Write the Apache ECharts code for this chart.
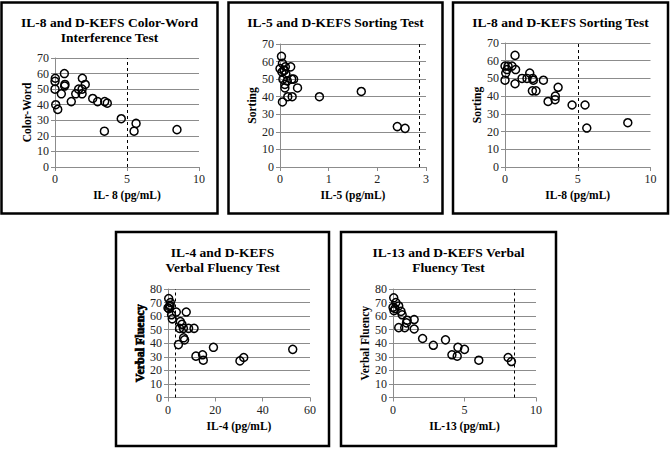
<!DOCTYPE html>
<html><head><meta charset="utf-8">
<script src="https://cdn.jsdelivr.net/npm/echarts@6/dist/echarts.min.js"></script>
<style>html,body{margin:0;padding:0;background:#fff}#c{width:670px;height:450px}</style>
</head><body><div id="c"></div>
<script>
// ---- Data ----
const titles = ['IL-8 and D-KEFS Color-Word\nInterference Test', 'IL-5 and D-KEFS Sorting Test', 'IL-8 and D-KEFS Sorting Test', 'IL-4 and D-KEFS\nVerbal Fluency Test', 'IL-13 and D-KEFS Verbal\nFluency Test'];
const xNames = ['IL- 8 (pg/mL)', 'IL-5 (pg/mL)', 'IL-8 (pg/mL)', 'IL-4 (pg/mL)', 'IL-13 (pg/mL)'];
const yNames = ['Color-Word', 'Sorting', 'Sorting', 'Verbal Fluency', 'Verbal Fluency'];
const xMaxes = [10, 3, 10, 60, 10];
const xIntervals = [5, 1, 5, 20, 5];
const yMaxes = [70, 70, 70, 80, 80];
const yIntervals = [10, 10, 10, 10, 10];
const cutoffs = [5.03, 2.86, 5.02, 3.2, 8.47];

const il8_colorword_x = [0.02, 0.0, 0.0, 0.65, 0.69, 0.67, 0.44, 0.05, 0.19, 1.13, 1.44, 1.64, 1.88, 1.9, 1.88, 2.1, 2.62, 2.96, 3.45, 3.63, 3.43, 4.6, 5.63, 5.49, 8.47];
const il8_colorword_y = [57, 55, 50, 60, 53, 52, 47, 40, 37, 42, 47, 50, 50, 57, 47, 53, 44, 42, 42, 41, 23, 31, 28, 23, 24];

const il5_sorting_x = [0.03, 0.05, 0.0, 0.11, 0.22, 0.08, 0.04, 0.09, 0.12, 0.06, 0.15, 0.24, 0.28, 0.1, 0.1, 0.36, 0.16, 0.25, 0.05, 0.81, 1.67, 2.41, 2.57];
const il5_sorting_y = [63, 59, 56, 57, 57, 55, 54, 55, 53, 50, 49, 50, 50, 47, 45, 45, 40, 40, 37, 40, 43, 23, 22];

const il8_sorting_x = [0.69, 0.0, 0.21, 0.48, 0.14, 0.05, 0.73, 0.0, 0.69, 1.17, 1.51, 1.7, 1.9, 1.95, 1.88, 2.13, 2.64, 3.65, 2.96, 3.46, 3.44, 4.61, 5.5, 5.62, 8.44];
const il8_sorting_y = [63, 57, 57, 57, 55, 53, 55, 49, 47, 50, 50, 53, 50, 49, 43, 43, 49, 45, 37, 40, 38, 35, 35, 22, 25];

const il4_fluency_x = [0.3, 1.0, 0.85, 0.7, 0.4, 0.0, 1.5, 1.8, 3.5, 7.7, 5.2, 5.9, 4.9, 6.5, 8.7, 11.0, 6.6, 7.0, 4.4, 11.8, 14.6, 14.9, 19.2, 30.4, 32.0, 52.7];
const il4_fluency_y = [73, 70, 68, 67, 65.5, 66, 61, 58, 63, 63, 56, 54, 51, 51, 51, 51, 44, 42.5, 39, 30.5, 31.5, 27.5, 37, 27, 29.5, 35.5];

const il13_fluency_x = [0.05, 0.2, 0.4, 0.0, 0.14, 0.07, 0.56, 0.64, 0.4, 0.82, 0.94, 0.99, 1.48, 1.48, 2.07, 2.82, 3.67, 4.12, 4.49, 4.54, 5.0, 6.0, 8.05, 8.28];
const il13_fluency_y = [73.5, 70, 67.5, 66.5, 65.5, 64, 63.5, 61, 51.5, 51.5, 55, 57, 57.5, 50.5, 43.5, 38.5, 42.5, 31.5, 30.5, 37, 35.5, 27.5, 29.5, 26.5];

const xsAll = [il8_colorword_x, il5_sorting_x, il8_sorting_x, il4_fluency_x, il13_fluency_x];
const ysAll = [il8_colorword_y, il5_sorting_y, il8_sorting_y, il4_fluency_y, il13_fluency_y];

// ---- Layout ----
const boxes = [[1.5, 2.5, 216, 211], [228.5, 2.5, 214, 211], [453, 2.5, 215, 211], [116, 232, 213, 214], [341, 232, 215, 214]];
const grids = [[55, 58, 144, 109], [280, 44, 146, 123], [505, 43, 145.5, 124], [168, 289, 142, 108.5], [393, 289, 143, 108.5]];
const titleTops = [15, 15, 15, 244.5, 244.5];

const serif = 'Liberation Serif';
const gridColor = '#8c8c8c';

const chart = echarts.init(document.getElementById('c'), null, {renderer: 'svg'});

const option = {
  backgroundColor: '#fff',
  animation: false,
  grid: grids.map(g => ({left: g[0], top: g[1], width: g[2], height: g[3], containLabel: false})),
  xAxis: xMaxes.map((mx, i) => ({
    type: 'value', gridIndex: i, min: 0, max: mx, interval: xIntervals[i],
    name: xNames[i], nameLocation: 'middle', nameGap: 22,
    nameTextStyle: {fontFamily: serif, fontWeight: 'bold', fontSize: 11.5, color: '#000'},
    axisLine: {show: true, lineStyle: {color: gridColor, width: 1}},
    axisTick: {show: true, length: 4, lineStyle: {color: gridColor}},
    axisLabel: {fontFamily: serif, fontSize: 12, color: '#222', margin: 6},
    splitLine: {show: false}
  })),
  yAxis: yMaxes.map((mx, i) => ({
    type: 'value', gridIndex: i, min: 0, max: mx, interval: yIntervals[i],
    name: yNames[i], nameLocation: 'middle', nameGap: 22, nameRotate: 90,
    nameTextStyle: i === 3
      ? {fontFamily: serif, fontWeight: 'bold', fontSize: 12, color: '#000', textBorderColor: '#000', textBorderWidth: 0.7}
      : {fontFamily: serif, fontWeight: 'bold', fontSize: 11.5, color: '#000'},
    axisLine: {show: true, lineStyle: {color: gridColor, width: 1}},
    axisTick: {show: true, length: 4, lineStyle: {color: gridColor}},
    axisLabel: {fontFamily: serif, fontSize: 12, color: '#222', margin: 6},
    splitLine: {show: true, lineStyle: {color: gridColor, width: 1}}
  })),
  series: xsAll.map((xs, i) => ({
    type: 'scatter', xAxisIndex: i, yAxisIndex: i,
    symbol: 'circle', symbolSize: 8,
    itemStyle: {color: 'rgba(255,255,255,0)', borderColor: '#000', borderWidth: 1.5, opacity: 1},
    data: xs.map((x, j) => [x, ysAll[i][j]]),
    markLine: {
      silent: true, symbol: 'none', label: {show: false},
      lineStyle: {color: '#000', type: [3, 3], width: 1},
      data: [{xAxis: cutoffs[i]}]
    }
  })),
  graphic: [
    ...boxes.map(b => ({
      type: 'rect', shape: {x: b[0], y: b[1], width: b[2], height: b[3]},
      style: {fill: 'none', stroke: '#000', lineWidth: 2.5}, silent: true
    })),
    ...titles.map((t, i) => ({
      type: 'text', x: boxes[i][0] + boxes[i][2] / 2, y: titleTops[i],
      style: {text: t, align: 'center', verticalAlign: 'top', fontFamily: serif, fontWeight: 'bold',
              fontSize: 13.5, lineHeight: 15, fill: '#000'}, silent: true
    }))
  ]
};
chart.setOption(option);
</script></body></html>
